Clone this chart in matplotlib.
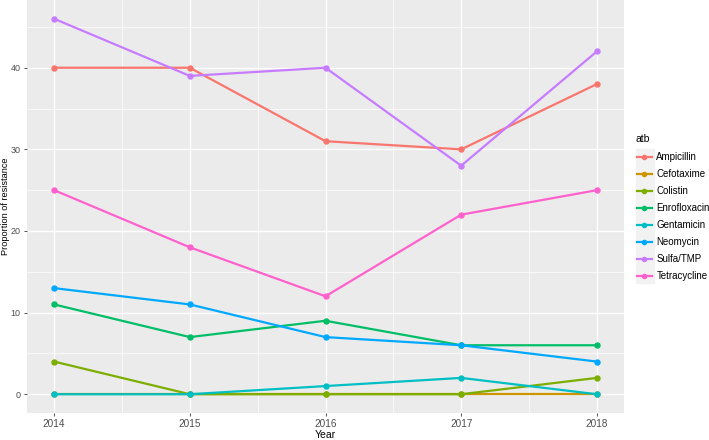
import matplotlib
matplotlib.use('Agg')
import matplotlib.pyplot as plt
from matplotlib.lines import Line2D
from matplotlib.patches import Rectangle
from matplotlib.ticker import MultipleLocator

plt.rcParams['font.family'] = ['Liberation Sans', 'DejaVu Sans']

years = [2014, 2015, 2016, 2017, 2018]
atb = ['Ampicillin', 'Cefotaxime', 'Colistin', 'Enrofloxacin',
       'Gentamicin', 'Neomycin', 'Sulfa/TMP', 'Tetracycline']
ampicillin = [40, 40, 31, 30, 38]
cefotaxime = [0, 0, 0, 0, 0]
colistin = [4, 0, 0, 0, 2]
enrofloxacin = [11, 7, 9, 6, 6]
gentamicin = [0, 0, 1, 2, 0]
neomycin = [13, 11, 7, 6, 4]
sulfa_tmp = [46, 39, 40, 28, 42]
tetracycline = [25, 18, 12, 22, 25]
values = [ampicillin, cefotaxime, colistin, enrofloxacin,
          gentamicin, neomycin, sulfa_tmp, tetracycline]

# ggplot default hues for 8 groups
colors = ['#F8766D', '#CD9600', '#7CAE00', '#00BE67',
          '#00BFC4', '#00A9FF', '#C77CFF', '#FF61CC']

fig = plt.figure(figsize=(7.09, 4.40), dpi=100)
ax = fig.add_axes([27 / 709, 27 / 440, 597 / 709, 413 / 440])
ax.set_facecolor('#EBEBEB')

for name, y, c in zip(atb, values, colors):
    ax.plot(years, y, color=c, lw=1.6, marker='o', ms=3.6, label=name,
            solid_capstyle='butt', zorder=3)

ax.set_xlim(2014 - 0.2, 2018 + 0.2)
ax.set_ylim(-2.3, 48.3)
ax.xaxis.set_major_locator(MultipleLocator(1))
ax.xaxis.set_minor_locator(MultipleLocator(0.5))
ax.yaxis.set_major_locator(MultipleLocator(10))
ax.yaxis.set_minor_locator(MultipleLocator(5))
ax.grid(which='major', color='white', lw=1.0, zorder=0)
ax.grid(which='minor', color='white', lw=0.5, zorder=0)
ax.set_axisbelow(True)
for s in ax.spines.values():
    s.set_visible(False)
ax.tick_params(which='major', length=2.5, width=0.6, color='#333333',
               labelcolor='#4D4D4D', pad=2)
ax.tick_params(axis='x', labelsize=7.2)
ax.tick_params(axis='y', labelsize=6.5)
ax.tick_params(which='minor', length=0)
ax.set_xlabel('Year', fontsize=7.5, labelpad=0.5)
ax.set_ylabel('Proportion of resistance', fontsize=6.6, va='center')
ax.yaxis.set_label_coords(-21 / 597, 0.5)

# legend
fig.text(636 / 709, 1 - 139 / 440, 'atb', fontsize=7.5, va='center', ha='left')
key_bg = Rectangle((636 / 709, 1 - 283 / 440), 18 / 709, 134 / 440,
                   transform=fig.transFigure, color='#F2F2F2', zorder=-5,
                   clip_on=False)
fig.add_artist(key_bg)
handles = [Line2D([], [], color=c, lw=1.6, marker='o', ms=3.0) for c in colors]
leg = fig.legend(handles, atb, loc='upper left', bbox_to_anchor=(637 / 709, 1 - 152 / 440),
                 bbox_transform=fig.transFigure, frameon=False, fontsize=7,
                 handlelength=1.5, handletextpad=0.5, labelspacing=0.72,
                 borderpad=0, borderaxespad=0)
leg.set_zorder(5)

fig.savefig('out.png', dpi=100)
